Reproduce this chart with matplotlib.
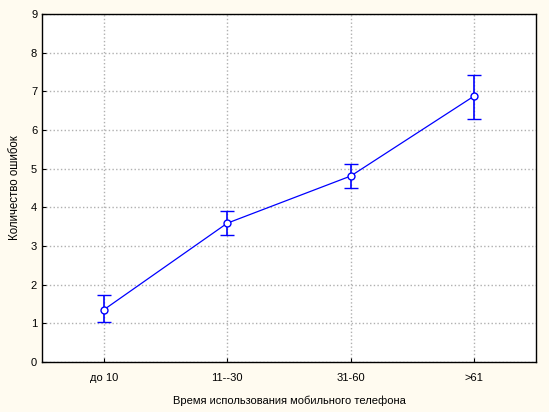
import numpy as np
from matplotlib import pyplot as plt

plt.rcParams['font.family'] = ['Liberation Sans', 'DejaVu Sans']

groups = ['до 10', '11--30', '31-60', '>61']
mean_err = [1.35, 3.59, 4.81, 6.88]
upper = [1.72, 3.90, 5.13, 7.41]
lower = [1.03, 3.28, 4.49, 6.28]

x = np.arange(len(groups))
yerr = [np.array(mean_err) - np.array(lower), np.array(upper) - np.array(mean_err)]

fig = plt.figure(figsize=(5.49, 4.12), dpi=100, facecolor='#fffbf0')
ax = fig.add_axes([42 / 549, 50 / 412, 494 / 549, 348 / 412])
ax.set_facecolor('white')

ax.errorbar(x, mean_err, yerr=yerr, color='#0000ff', lw=0.9, elinewidth=1.2,
            capsize=5, capthick=1.2, marker='o', ms=5, mfc='white', mec='#0000ff', mew=1)

ax.set_xlim(-0.5, 3.5)
ax.set_ylim(0, 9)
ax.set_yticks(range(10))
ax.set_xticks(x)
ax.set_xticklabels(groups)
ax.grid(color='#b0b0b0', linestyle=':', linewidth=1)
ax.set_axisbelow(True)
ax.tick_params(direction='in', length=3, labelsize=8, colors='black')
ax.tick_params(axis='x', pad=8)
for s in ax.spines.values():
    s.set_linewidth(1)

ax.set_xlabel('Время использования мобильного телефона', fontsize=8, labelpad=9)
ax.set_ylabel('Количество ошибок', fontsize=8.3, labelpad=7)

plt.savefig('out.png', dpi=100, facecolor=fig.get_facecolor())
